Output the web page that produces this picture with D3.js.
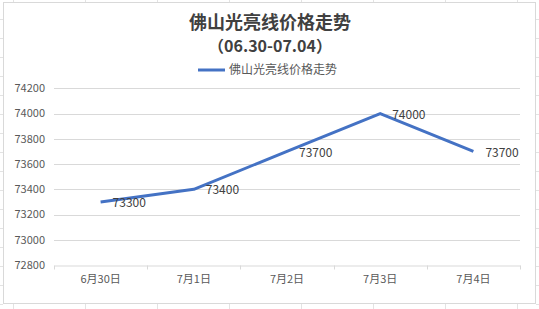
<!DOCTYPE html>
<html>
<head>
<meta charset="utf-8">
<script src="https://cdn.jsdelivr.net/npm/d3@7"></script>
<style>
  body { margin: 0; background: #fff; }
  svg { display: block; font-family: "Noto Sans CJK SC", "Noto Sans", sans-serif; }
</style>
</head>
<body>
<div id="grafico"></div>
<script>
// dados do gráfico
const categorias = ["6月30日", "7月1日", "7月2日", "7月3日", "7月4日"];
const precos = [73300, 73400, 73700, 74000, 73700];
const ticksY = [72800, 73000, 73200, 73400, 73600, 73800, 74000, 74200];
const titulo = "佛山光亮线价格走势";
const subtitulo = "（06.30-07.04）";
const nomeSerie = "佛山光亮线价格走势";

const largura = 539, altura = 309;
const margem = { esquerda: 54, direita: 520, topo: 88.3, base: 265 };
const cinza = "#d9d9d9";

const svg = d3.select("#grafico").append("svg")
    .attr("width", largura)
    .attr("height", altura);

// linhas de célula do Excel por fora do gráfico
const fundo = svg.append("g").attr("stroke", "#e3e3e3").attr("stroke-width", 1);
d3.range(13, largura, 72).forEach(x => {
    fundo.append("line").attr("x1", x + 0.5).attr("x2", x + 0.5).attr("y1", 0).attr("y2", 2);
    fundo.append("line").attr("x1", x + 0.5).attr("x2", x + 0.5).attr("y1", 304).attr("y2", altura);
});
d3.range(19, altura, 19).forEach(y => {
    fundo.append("line").attr("x1", 0).attr("x2", 3).attr("y1", y + 0.5).attr("y2", y + 0.5);
    fundo.append("line").attr("x1", 536).attr("x2", largura).attr("y1", y + 0.5).attr("y2", y + 0.5);
});

// borda do gráfico
svg.append("rect")
    .attr("x", 3.5).attr("y", 2.5)
    .attr("width", 532).attr("height", 301)
    .attr("fill", "#fff")
    .attr("stroke", "#d9d9d9");

// título
svg.append("text")
    .attr("x", 270).attr("y", 29)
    .attr("text-anchor", "middle")
    .attr("font-size", "18px").attr("font-weight", "bold")
    .attr("fill", "#404040")
    .text(titulo);
svg.append("text")
    .attr("x", 270).attr("y", 52)
    .attr("text-anchor", "middle")
    .attr("font-size", "16px").attr("font-weight", "bold")
    .attr("fill", "#404040")
    .text(subtitulo);

// legenda
svg.append("line")
    .attr("x1", 198).attr("x2", 225)
    .attr("y1", 70).attr("y2", 70)
    .attr("stroke", "#4472C4").attr("stroke-width", 3);
svg.append("text")
    .attr("x", 229).attr("y", 70)
    .attr("dy", "0.35em")
    .attr("font-size", "12px")
    .attr("fill", "#595959")
    .text(nomeSerie);

// escalas
const x = d3.scaleBand()
    .domain(categorias)
    .range([margem.esquerda, margem.direita]);
const y = d3.scaleLinear()
    .domain([72800, 74200])
    .range([margem.base, margem.topo]);

// grade horizontal
svg.append("g")
    .selectAll("line")
    .data(ticksY.slice(1))
    .enter().append("line")
    .attr("x1", margem.esquerda).attr("x2", margem.direita)
    .attr("y1", d => Math.round(y(d)) + 0.5).attr("y2", d => Math.round(y(d)) + 0.5)
    .attr("stroke", cinza);

// eixo Y
svg.append("g")
    .selectAll("text")
    .data(ticksY)
    .enter().append("text")
    .attr("x", 45)
    .attr("y", d => y(d))
    .attr("dy", "0.35em")
    .attr("text-anchor", "end")
    .attr("font-size", "11px")
    .attr("fill", "#595959")
    .text(d => d);

// eixo X
const eixoX = svg.append("g")
    .attr("transform", "translate(0," + (Math.round(margem.base) + 0.5) + ")")
    .call(d3.axisBottom(x).tickSize(0).tickSizeOuter(0));
eixoX.select(".domain").attr("stroke", cinza);
eixoX.selectAll(".tick text")
    .attr("dy", "1.3em")
    .attr("font-size", "11px")
    .attr("font-family", "\"Noto Sans CJK SC\", sans-serif")
    .attr("fill", "#595959");
eixoX.selectAll(".tick line").remove();
const limites = categorias.map(c => x(c)).concat([margem.direita]);
eixoX.selectAll(".limite")
    .data(limites)
    .enter().append("line")
    .attr("class", "limite")
    .attr("x1", d => Math.round(d) + 0.5).attr("x2", d => Math.round(d) + 0.5)
    .attr("y1", 0).attr("y2", 4)
    .attr("stroke", cinza);

// linha da série
const linha = d3.line()
    .x((d, i) => x(categorias[i]) + x.bandwidth() / 2)
    .y(d => y(d));
svg.append("path")
    .datum(precos)
    .attr("d", linha)
    .attr("fill", "none")
    .attr("stroke", "#4472C4")
    .attr("stroke-width", 3)
    .attr("stroke-linejoin", "round");

// rótulos de dados
svg.append("g")
    .selectAll("text")
    .data(precos)
    .enter().append("text")
    .attr("x", (d, i) => x(categorias[i]) + x.bandwidth() / 2 + 12)
    .attr("y", d => y(d) + 1)
    .attr("dy", "0.35em")
    .attr("font-size", "12px")
    .attr("fill", "#404040")
    .text(d => d);
</script>
</body>
</html>
